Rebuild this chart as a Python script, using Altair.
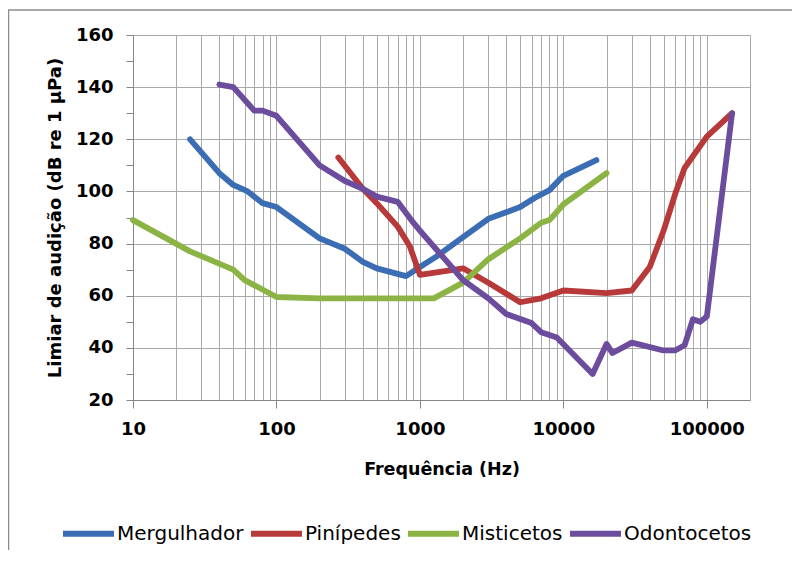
import altair as alt
import pandas as pd

series = ["Mergulhador", "Pinípedes", "Misticetos", "Odontocetos"]
colors = ["#3b6db4", "#b8393a", "#8bb445", "#6c4c9c"]

merg_f = [25, 40, 50, 63, 80, 100, 200, 300, 400, 500, 800, 1000, 1300, 2000, 3000, 5000, 6300, 8000, 10000, 17000]
merg_db = [120, 107, 102.5, 100, 95.5, 94, 82, 78, 73, 70.5, 67.5, 71, 75, 82.5, 89.5, 94, 97.5, 100.5, 106, 112]

pin_f = [270, 400, 500, 700, 850, 1000, 2000, 3000, 5000, 7000, 10000, 20000, 30000, 40000, 50000, 61000, 70000, 100000, 150000]
pin_db = [113, 101, 95.5, 86.5, 79, 68, 70.5, 65, 57.5, 59, 62, 61, 62, 71, 85, 100, 109, 121, 130]

mis_f = [10, 25, 50, 60, 100, 200, 1250, 2000, 3000, 5000, 7000, 8000, 10000, 20000]
mis_db = [89, 77, 70, 66, 59.5, 59, 59, 65, 74, 82, 88, 89, 95, 107]

odo_f = [40, 50, 70, 80, 100, 200, 300, 400, 500, 700, 900, 1000, 2000, 3000, 4000, 6000, 7000, 9000,
         16000, 20000, 22000, 30000, 50000, 60000, 70000, 80000, 90000, 100000, 150000]
odo_db = [141, 140, 131, 131, 129, 110, 104, 101, 98, 96, 88, 85, 66, 59, 53, 49.5, 46, 44,
          30, 41.5, 38, 42, 39, 39, 41, 51, 50, 52, 130]

x_ticks = [10, 20, 30, 40, 50, 60, 70, 80, 90,
           100, 200, 300, 400, 500, 600, 700, 800, 900,
           1000, 2000, 3000, 4000, 5000, 6000, 7000, 8000, 9000,
           10000, 20000, 30000, 40000, 50000, 60000, 70000, 80000, 90000,
           100000, 200000]
x_major = [10, 100, 1000, 10000, 100000]
y_ticks = [20, 30, 40, 50, 60, 70, 80, 90, 100, 110, 120, 130, 140, 150, 160]

rows = []
for name, fs, vs in zip(series, [merg_f, pin_f, mis_f, odo_f], [merg_db, pin_db, mis_db, odo_db]):
    for f, v in zip(fs, vs):
        rows.append({"serie": name, "freq": f, "db": v})
df = pd.DataFrame(rows)

major_test = "indexof([10,100,1000,10000,100000], datum.value) >= 0"

FONT = "DejaVu Sans"

x_axis = alt.Axis(
    values=x_ticks, format="d", orient="bottom",
    labelExpr=f"{major_test} ? datum.label : ''",
    tickOpacity={"condition": {"test": major_test, "value": 1}, "value": 0},
    tickSize=8, labelPadding=12, labelOverlap=False, labelFlush=False,
    labelFont=FONT, labelFontSize=18, labelFontWeight="bold", labelColor="black",
    title="Frequência (Hz)", titleFont=FONT, titleFontSize=17.5, titleFontWeight="bold",
    titleColor="black", titleX=308.5, titleY=69, titleBaseline="middle", titleAlign="center",
    grid=True, gridColor="#a9a9a9", gridWidth=1,
    domainColor="#868686", tickColor="#868686",
)

y_axis = alt.Axis(
    values=y_ticks, orient="left",
    labelExpr="datum.value % 20 == 0 ? datum.label : ''",
    gridOpacity={"condition": {"test": "datum.value % 20 == 0", "value": 1}, "value": 0},
    tickSize=7, labelPadding=13, labelOverlap=False, labelFlush=False,
    labelFont=FONT, labelFontSize=18, labelFontWeight="bold", labelColor="black",
    title="Limiar de audição (dB re 1 µPa)", titleFont=FONT, titleFontSize=18, titleFontWeight="bold",
    titleColor="black", titleX=-78, titleY=182.5, titleAngle=-90, titleBaseline="middle",
    titleAlign="center",
    grid=True, gridColor="#a9a9a9", gridWidth=1,
    domainColor="#868686", tickColor="#868686",
)

lines = alt.Chart(df).mark_line(strokeWidth=5.8, strokeCap="round", strokeJoin="round").encode(
    x=alt.X("freq:Q", scale=alt.Scale(type="log", domain=[10, 200000], nice=False), axis=x_axis),
    y=alt.Y("db:Q", scale=alt.Scale(domain=[20, 160], nice=False), axis=y_axis),
    color=alt.Color(
        "serie:N",
        scale=alt.Scale(domain=series, range=colors),
        sort=series,
        legend=alt.Legend(
            orient="none", legendX=-73, legendY=470, direction="horizontal", columns=4,
            symbolType="stroke", symbolSize=2601, symbolStrokeWidth=6,
            labelFont=FONT, labelFontSize=20, labelColor="black", labelOffset=0,
            columnPadding=-5, padding=0, title=None, labelLimit=300,
        ),
    ),
    detail="serie:N",
)

border_data = pd.DataFrame({"k": [0]})
border_v = alt.Chart(border_data).mark_rule(color="#8c8c8c", strokeWidth=1.5).encode(
    x=alt.value(-124.5), y=alt.value(-25), y2=alt.value(515)
)
border_h = alt.Chart(border_data).mark_rule(color="#8c8c8c", strokeWidth=1.5).encode(
    x=alt.value(-125), x2=alt.value(659), y=alt.value(-25)
)

chart = alt.layer(lines, border_v, border_h).properties(
    width=617, height=365,
    autosize=alt.AutoSizeParams(type="none"),
    padding={"left": 125, "top": 27, "right": 42, "bottom": 150},
).configure(background="white").configure_view(stroke=None)

chart.save("out.html", embed_options={"renderer": "svg", "actions": False})
